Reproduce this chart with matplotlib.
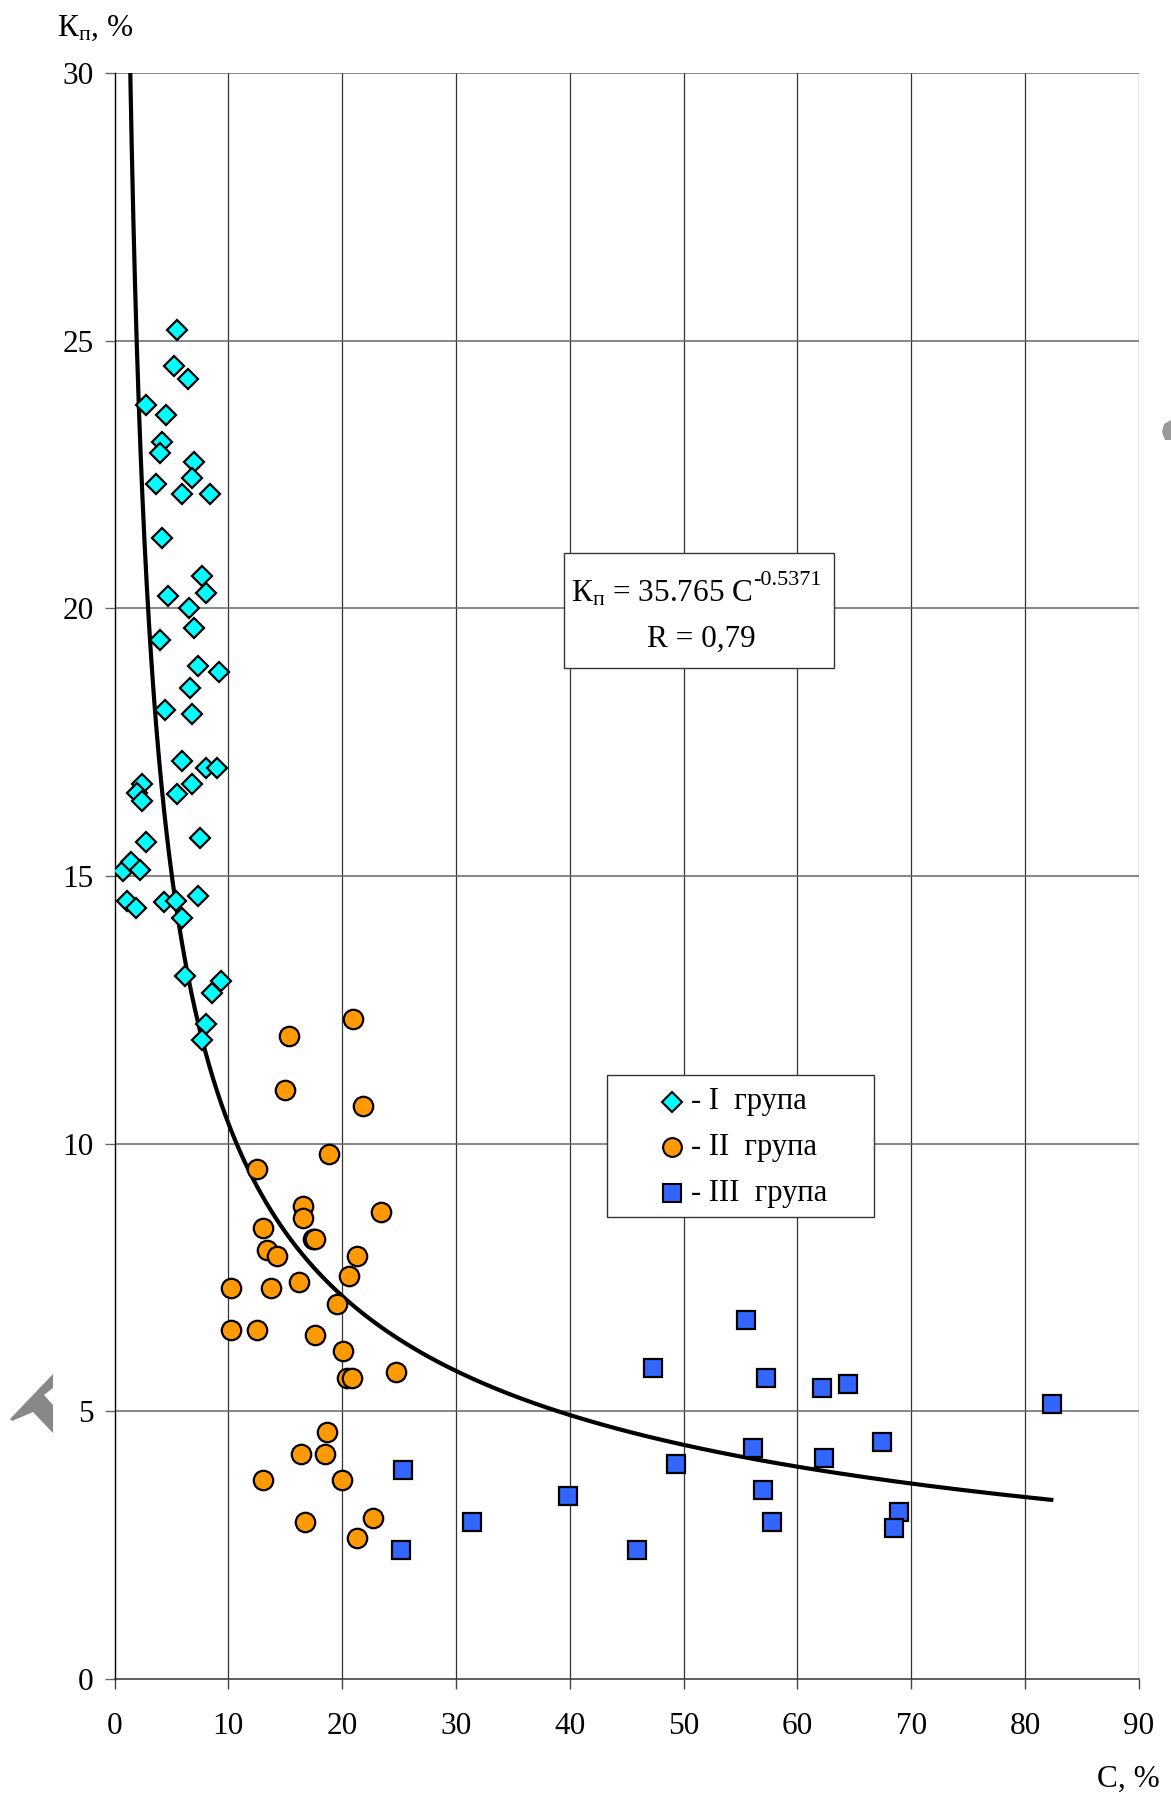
import numpy as np
import matplotlib
matplotlib.use("Agg")
import matplotlib.pyplot as plt
from matplotlib.patches import Rectangle, Polygon
from matplotlib.lines import Line2D

plt.rcParams['font.family'] = ['Liberation Serif', 'DejaVu Serif']
plt.rcParams['mathtext.fontset'] = 'custom'
plt.rcParams['mathtext.rm'] = 'Liberation Serif'
plt.rcParams['mathtext.it'] = 'Liberation Serif:italic'
plt.rcParams['mathtext.bf'] = 'Liberation Serif:bold'

# ---- data ----
g1_c = [5.46, 5.22, 6.49, 2.74, 4.54, 4.16, 3.98, 7.02, 6.84, 3.66, 5.93, 8.41, 4.16, 7.73, 8.05, 4.72,
        6.52, 7.02, 4.04, 7.37, 9.14, 6.64, 4.40, 6.81, 5.93, 8.02, 9.00, 6.81, 2.45, 2.00, 2.42, 5.46,
        2.77, 7.55, 0.74, 1.47, 2.27, 1.09, 1.89, 4.34, 5.40, 5.93, 7.37, 6.16, 8.58, 9.32, 8.08, 7.70]
g1_k = [25.2, 24.52, 24.29, 23.8, 23.62, 23.11, 22.9, 22.73, 22.43, 22.33, 22.13, 22.13, 21.31, 20.61,
        20.29, 20.23, 20.0, 19.64, 19.40, 18.92, 18.82, 18.52, 18.1, 18.03, 17.15, 17.02, 17.02, 16.72,
        16.72, 16.55, 16.40, 16.53, 15.63, 15.71, 15.09, 15.27, 15.11, 14.53, 14.40, 14.52, 14.53, 14.21,
        14.63, 13.13, 12.82, 13.04, 12.24, 11.94]

g2_c = [20.98, 15.36, 15.01, 21.86, 18.88, 12.55, 16.59, 16.59, 23.44, 13.08, 17.47, 17.62, 13.43, 14.31,
        21.34, 20.63, 10.26, 13.78, 16.24, 19.58, 10.26, 12.55, 17.65, 20.11, 20.40, 20.84, 24.71, 18.70,
        16.41, 18.52, 13.08, 19.96, 16.77, 22.74, 21.34]
g2_k = [12.32, 12.02, 11.01, 10.71, 9.81, 9.52, 8.84, 8.62, 8.73, 8.43, 8.21, 8.21, 8.02, 7.91,
        7.91, 7.53, 7.31, 7.31, 7.42, 7.01, 6.52, 6.52, 6.42, 6.12, 5.63, 5.63, 5.74, 4.62,
        4.21, 4.21, 3.72, 3.72, 2.93, 3.01, 2.64]

g3_c = [55.47, 47.35, 57.22, 56.13, 49.31, 57.01, 39.82, 57.75, 31.39, 45.94, 25.38, 25.20, 62.14, 64.43,
        82.36, 62.32, 67.42, 68.96, 68.47]
g3_k = [6.71, 5.81, 5.63, 4.32, 4.02, 3.53, 3.42, 2.93, 2.93, 2.41, 3.91, 2.41, 5.44, 5.51,
        5.13, 4.13, 4.43, 3.12, 2.83]

fit_a = 35.765
fit_b = -0.5371
fit_range = [1.385, 82.5]

x_ticks = [0, 10, 20, 30, 40, 50, 60, 70, 80, 90]
y_ticks = [0, 5, 10, 15, 20, 25, 30]
group_labels = ['- I  група', '- II  група', '- III  група']

# ---- figure ----
W, H = 1171, 1796
fig = plt.figure(figsize=(W / 100, H / 100), dpi=100)

def fx(px):
    return px / W

def fy(py):
    return 1 - py / H

FS = 22.5

ax_l, ax_r, ax_t, ax_b = 114.5, 1138.7, 73, 1679
ax = fig.add_axes([fx(ax_l), fy(ax_b), (ax_r - ax_l) / W, (ax_b - ax_t) / H])
ax.set_xlim(0, 90)
ax.set_ylim(0, 30)
ax.set_xticks(x_ticks)
ax.set_yticks(y_ticks)

for xv in x_ticks[1:]:
    ax.axvline(xv, color='#333333', lw=0.9, zorder=1)
for yv in y_ticks[1:]:
    ax.axhline(yv, color='#666666', lw=1.1, zorder=1)

for s in ['top', 'right']:
    ax.spines[s].set_visible(False)
ax.spines['left'].set_color('black')
ax.spines['bottom'].set_color('#333333')
ax.spines['left'].set_linewidth(1.0)
ax.spines['bottom'].set_linewidth(1.1)

ax.tick_params(axis='x', direction='out', length=7.5, width=1.0, color='#444444',
               labelsize=FS, pad=16)
ax.tick_params(axis='y', direction='out', length=7.5, width=1.0, color='#666666',
               labelsize=FS, pad=7.5)

# trendline
cc = np.geomspace(fit_range[0], fit_range[1], 400)
ax.plot(cc, fit_a * cc ** fit_b, color='black', lw=3.0, zorder=3, solid_capstyle='butt')

ax.plot(g1_c, g1_k, linestyle='none', marker='D', markersize=10.5, markerfacecolor='#00FFFF',
        markeredgecolor='black', markeredgewidth=1.6, zorder=4)
ax.plot(g2_c, g2_k, linestyle='none', marker='o', markersize=14, markerfacecolor='#FF9900',
        markeredgecolor='black', markeredgewidth=1.6, zorder=4)
ax.plot(g3_c, g3_k, linestyle='none', marker='s', markersize=13, markerfacecolor='#3366FF',
        markeredgecolor='black', markeredgewidth=1.6, zorder=4)

# axis titles
fig.text(fx(57), fy(36), 'К$_{\\mathrm{п}}$, %', fontsize=FS, ha='left', va='baseline')
fig.text(fx(1097), fy(1787), 'С, %', fontsize=FS, ha='left', va='baseline')

# equation box
fig.patches.append(Rectangle((fx(564), fy(668)), (834 - 564) / W, (668 - 553) / H,
                             transform=fig.transFigure, facecolor='white', edgecolor='#333333',
                             lw=1.0, zorder=5))
eq_main = fig.text(fx(571), fy(602), 'К$_{\\mathrm{п}}$ = 35.765 С', fontsize=FS,
                   ha='left', va='baseline', zorder=6)
renderer = fig.canvas.get_renderer()
bb = eq_main.get_window_extent(renderer=renderer)
fig.text(bb.x1 / W + 1 / W, fy(585), '-0.5371', fontsize=16, ha='left', va='baseline', zorder=6)
fig.text(fx(701), fy(647), 'R = 0,79', fontsize=FS, ha='center', va='baseline', zorder=6)

# legend box
fig.patches.append(Rectangle((fx(607), fy(1217)), (874 - 607) / W, (1217 - 1075) / H,
                             transform=fig.transFigure, facecolor='white', edgecolor='#333333',
                             lw=1.0, zorder=5))
leg_rows = [1102, 1147, 1193]
leg_style = [('D', 10, '#00FFFF'), ('o', 13.5, '#FF9900'), ('s', 13.5, '#3366FF')]
for row, (mk, ms, fc), lab in zip(leg_rows, leg_style, group_labels):
    fig.lines.append(Line2D([fx(672)], [fy(row)], transform=fig.transFigure, marker=mk,
                            markersize=ms, markerfacecolor=fc, markeredgecolor='black',
                            markeredgewidth=1.5, linestyle='none', zorder=6))
    fig.text(fx(691), fy(row), lab, fontsize=22, ha='left', va='center', zorder=6)

# scan artefacts at the margins
art = [(10, 1419), (53, 1374), (53, 1388), (44, 1395), (53, 1405), (53, 1433), (33, 1412), (12, 1421)]
fig.patches.append(Polygon([(fx(a), fy(b)) for a, b in art], closed=True, transform=fig.transFigure,
                           facecolor='#888888', edgecolor='none'))
art2 = [(1171, 420), (1164, 424), (1162, 432), (1165, 440), (1171, 440)]
fig.patches.append(Polygon([(fx(a), fy(b)) for a, b in art2], closed=True, transform=fig.transFigure,
                           facecolor='#999999', edgecolor='none'))

fig.savefig('out.png', dpi=100)
